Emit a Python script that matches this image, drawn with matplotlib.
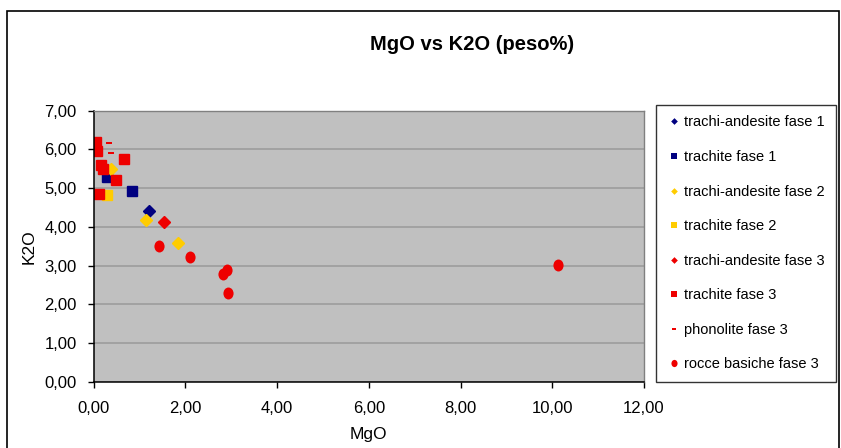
import matplotlib.pyplot as plt
from matplotlib.lines import Line2D
from matplotlib.patches import Rectangle
from matplotlib.path import Path
from matplotlib.transforms import Affine2D
from matplotlib.ticker import FuncFormatter

plt.rcParams['font.family'] = ['Liberation Sans', 'DejaVu Sans']

# Dati (peso%)
ta1_mgo = [1.20]
ta1_k2o = [4.41]

tr1_mgo = [0.29, 0.83]
tr1_k2o = [5.30, 4.93]

ta2_mgo = [0.38, 1.15, 1.84]
ta2_k2o = [5.49, 4.18, 3.59]

tr2_mgo = [0.30]
tr2_k2o = [4.82]

ta3_mgo = [1.54]
ta3_k2o = [4.13]

tr3_mgo = [0.05, 0.02, 0.07, 0.67, 0.16, 0.21, 0.49, 0.12]
tr3_k2o = [6.18, 6.05, 5.95, 5.75, 5.60, 5.49, 5.21, 4.85]

ph3_mgo = [0.33, 0.38]
ph3_k2o = [6.16, 5.90]

rb3_mgo = [1.43, 2.10, 2.83, 2.90, 2.94, 10.12]
rb3_k2o = [3.51, 3.23, 2.77, 2.89, 2.28, 3.02]

x_ticks = [0, 2, 4, 6, 8, 10, 12]
y_ticks = [0, 1, 2, 3, 4, 5, 6, 7]

NAVY = '#000080'
GIALLO = '#FFCC00'
ROSSO = '#EE0000'

# marker personalizzati: cerchio un po' stretto e trattino rettangolare
ellisse = Path.unit_circle().transformed(Affine2D().scale(0.85, 1.0))
trattino = Path([(-1, -0.45), (1, -0.45), (1, 0.45), (-1, 0.45), (-1, -0.45)],
                [Path.MOVETO, Path.LINETO, Path.LINETO, Path.LINETO, Path.CLOSEPOLY])

W, H = 841, 448
fig = plt.figure(figsize=(W / 100, H / 100), dpi=100)
ax = fig.add_axes([93.5 / W, (H - 381.7) / H, (644 - 93.5) / W, 271 / H])

ax.set_facecolor('#C0C0C0')
ax.set_axisbelow(True)
ax.yaxis.grid(True, color='#999999', lw=1.1)

ax.plot(ta1_mgo, ta1_k2o, ls='none', marker='D', ms=5.8, color=NAVY, mec=NAVY)
ax.plot(tr1_mgo, tr1_k2o, ls='none', marker='s', ms=7.3, color=NAVY, mec=NAVY)
ax.plot(ta2_mgo, ta2_k2o, ls='none', marker='D', ms=5.8, color=GIALLO, mec=GIALLO)
ax.plot(tr2_mgo, tr2_k2o, ls='none', marker='s', ms=7.3, color=GIALLO, mec=GIALLO)
ax.plot(ta3_mgo, ta3_k2o, ls='none', marker='D', ms=5.8, color=ROSSO, mec=ROSSO)
ax.plot(tr3_mgo, tr3_k2o, ls='none', marker='s', ms=7.3, color=ROSSO, mec=ROSSO)
ax.plot(ph3_mgo, ph3_k2o, ls='none', marker=trattino, ms=4.5, color=ROSSO, mew=0)
ax.plot(rb3_mgo, rb3_k2o, ls='none', marker=ellisse, ms=8.6, color=ROSSO, mew=0)

ax.set_xlim(0, 12)
ax.set_ylim(0, 7)
ax.set_xticks(x_ticks)
ax.set_yticks(y_ticks)
virgola = FuncFormatter(lambda v, pos: f'{v:.2f}'.replace('.', ','))
ax.xaxis.set_major_formatter(virgola)
ax.yaxis.set_major_formatter(virgola)
ax.tick_params(direction='out', length=4, width=1, color='black', labelsize=12)
ax.tick_params(axis='x', pad=10)
ax.tick_params(axis='y', pad=8)

for lato in ['left', 'bottom']:
    ax.spines[lato].set_color('black')
    ax.spines[lato].set_linewidth(1.1)
for lato in ['top', 'right']:
    ax.spines[lato].set_color('#808080')
    ax.spines[lato].set_linewidth(1.0)

ax.set_xlabel('MgO', fontsize=12.5, labelpad=8)
ax.set_ylabel('K2O', fontsize=12.5, labelpad=6)

fig.text(472 / W, 1 - 44 / H, 'MgO vs K2O (peso%)', fontsize=14.5,
         fontweight='bold', ha='center', va='center')

# legenda con marker piccoli
voci = [
    ('trachi-andesite fase 1', 'D', NAVY, 3.4),
    ('trachite fase 1', 's', NAVY, 4.8),
    ('trachi-andesite fase 2', 'D', GIALLO, 3.4),
    ('trachite fase 2', 's', GIALLO, 4.8),
    ('trachi-andesite fase 3', 'D', ROSSO, 3.4),
    ('trachite fase 3', 's', ROSSO, 4.8),
    ('phonolite fase 3', trattino, ROSSO, 3.5),
    ('rocce basiche fase 3', ellisse, ROSSO, 5.2),
]
handles = [Line2D([], [], ls='none', marker=m, ms=s, color=c, mew=0) for _, m, c, s in voci]
etichette = [v[0] for v in voci]
fig.legend(handles, etichette, loc='upper left',
           bbox_to_anchor=(656 / W, (H - 387) / H, 180 / W, 282 / H), mode='expand',
           fontsize=10.5, labelspacing=1.41, borderpad=0.72, handlelength=1.0,
           handletextpad=0.2, fancybox=False, framealpha=1,
           edgecolor='#333333', borderaxespad=0)

# cornice esterna del grafico
fig.patches.append(Rectangle((7 / W, -0.2), (839 - 7) / W, 1.2 - 11 / H,
                             transform=fig.transFigure, fill=False,
                             edgecolor='black', lw=1.2))

fig.savefig('out.png', dpi=100)
